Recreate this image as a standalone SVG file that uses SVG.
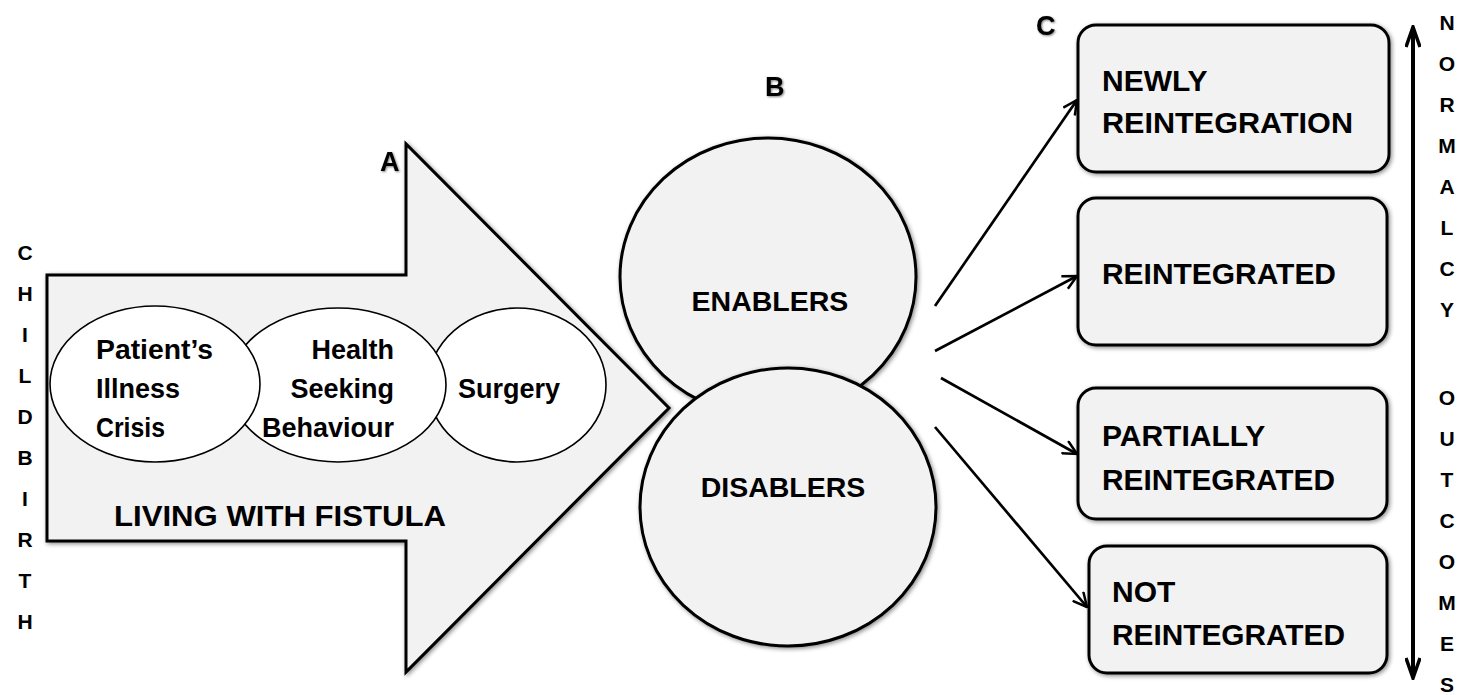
<svg xmlns="http://www.w3.org/2000/svg" width="1461" height="695" viewBox="0 0 1461 695">
<defs>
<filter id="sh" x="-10%" y="-10%" width="120%" height="120%">
<feDropShadow dx="1.5" dy="1.5" stdDeviation="2" flood-color="#000" flood-opacity="0.45"/>
</filter>
<filter id="tsh" x="-20%" y="-20%" width="140%" height="140%">
<feDropShadow dx="1" dy="1" stdDeviation="1.2" flood-color="#000" flood-opacity="0.5"/>
</filter>
<marker id="ah" viewBox="0 0 16 16" refX="15" refY="8" markerWidth="16" markerHeight="16" markerUnits="userSpaceOnUse" orient="auto">
<path d="M1,1 L15,8 L1,15" fill="none" stroke="#000" stroke-width="2.5"/>
</marker>
<marker id="ah2" viewBox="0 0 24 16" refX="22" refY="8" markerWidth="24" markerHeight="16" markerUnits="userSpaceOnUse" orient="auto-start-reverse">
<path d="M2,1 L22,8 L2,15" fill="none" stroke="#000" stroke-width="3.5"/>
</marker>
</defs>
<style>
text{font-family:"Liberation Sans",Arial,sans-serif;font-weight:bold;fill:#000}
.shape{fill:#f2f2f2;stroke:#000;stroke-width:3;filter:url(#sh)}
.ell{fill:#fff;stroke:#000;stroke-width:1.6}
.col{font-size:21px;text-anchor:middle}
.lbl{font-size:27px;filter:url(#tsh)}
.in{font-size:27px}
.big{font-size:30px}
.conn{stroke:#000;stroke-width:2.7;fill:none;marker-end:url(#ah)}
</style>

<g id="childbirth">
<text class="col" x="25" y="260">C</text>
<text class="col" x="25" y="301">H</text>
<text class="col" x="25" y="342">I</text>
<text class="col" x="25" y="383">L</text>
<text class="col" x="25" y="424">D</text>
<text class="col" x="25" y="465">B</text>
<text class="col" x="25" y="506">I</text>
<text class="col" x="25" y="547">R</text>
<text class="col" x="25" y="588">T</text>
<text class="col" x="25" y="629">H</text>
</g>

<g id="living-arrow">
<path class="shape" d="M47,275 L406,275 L406,144 L669,408 L406,672 L406,541 L47,541 Z"/>
<text class="lbl" x="380" y="171">A</text>
<ellipse class="ell" cx="517" cy="385" rx="89" ry="77"/>
<ellipse class="ell" cx="338" cy="385" rx="108" ry="77"/>
<ellipse class="ell" cx="155" cy="384" rx="105" ry="78"/>
<text class="in" x="96" y="359" textLength="117" lengthAdjust="spacingAndGlyphs">Patient’s</text>
<text class="in" x="96" y="398">Illness</text>
<text class="in" x="96" y="437" textLength="69" lengthAdjust="spacingAndGlyphs">Crisis</text>
<text class="in" x="394" y="359" text-anchor="end">Health</text>
<text class="in" x="394" y="398" text-anchor="end">Seeking</text>
<text class="in" x="394" y="437" text-anchor="end">Behaviour</text>
<text class="in" x="458" y="398">Surgery</text>
<text class="big" x="114" y="526" textLength="332" lengthAdjust="spacingAndGlyphs">LIVING WITH FISTULA</text>
</g>

<g id="B-label"><text class="lbl" x="765" y="96">B</text></g>

<g id="enablers">
<ellipse class="shape" cx="768" cy="277" rx="148" ry="139"/>
<text x="770" y="311" font-size="28.5" text-anchor="middle">ENABLERS</text>
</g>
<g id="disablers">
<ellipse class="shape" cx="788" cy="507" rx="148" ry="139"/>
<text x="783" y="497" font-size="28.5" text-anchor="middle">DISABLERS</text>
</g>

<g id="C-label"><text class="lbl" x="1036" y="35">C</text></g>

<g id="box-newly">
<rect class="shape" x="1078" y="25" width="311" height="147" rx="18"/>
<text class="big" x="1102" y="91">NEWLY</text>
<text class="big" x="1102" y="133" textLength="251" lengthAdjust="spacingAndGlyphs">REINTEGRATION</text>
</g>
<g id="box-reintegrated">
<rect class="shape" x="1078" y="198" width="309" height="147" rx="18"/>
<text class="big" x="1102" y="284" textLength="234" lengthAdjust="spacingAndGlyphs">REINTEGRATED</text>
</g>
<g id="box-partially">
<rect class="shape" x="1078" y="388" width="309" height="131" rx="18"/>
<text class="big" x="1102" y="446">PARTIALLY</text>
<text class="big" x="1102" y="490" textLength="233" lengthAdjust="spacingAndGlyphs">REINTEGRATED</text>
</g>
<g id="box-not">
<rect class="shape" x="1089" y="546" width="298" height="127" rx="18"/>
<text class="big" x="1112" y="602">NOT</text>
<text class="big" x="1112" y="645" textLength="233" lengthAdjust="spacingAndGlyphs">REINTEGRATED</text>
</g>

<g id="connectors">
<line class="conn" x1="935" y1="306" x2="1077" y2="100"/>
<line class="conn" x1="935" y1="351" x2="1077" y2="276"/>
<line class="conn" x1="941" y1="378" x2="1077" y2="454"/>
<line class="conn" x1="935" y1="427" x2="1087" y2="607"/>
<line x1="1413" y1="27" x2="1413" y2="678" stroke="#000" stroke-width="4" marker-start="url(#ah2)" marker-end="url(#ah2)"/>
</g>

<g id="normalcy-outcomes">
<text class="col" x="1447" y="30">N</text>
<text class="col" x="1447" y="71">O</text>
<text class="col" x="1447" y="112">R</text>
<text class="col" x="1447" y="153">M</text>
<text class="col" x="1447" y="194">A</text>
<text class="col" x="1447" y="235">L</text>
<text class="col" x="1447" y="276">C</text>
<text class="col" x="1447" y="317">Y</text>
<text class="col" x="1447" y="405">O</text>
<text class="col" x="1447" y="446">U</text>
<text class="col" x="1447" y="487">T</text>
<text class="col" x="1447" y="528">C</text>
<text class="col" x="1447" y="569">O</text>
<text class="col" x="1447" y="610">M</text>
<text class="col" x="1447" y="651">E</text>
<text class="col" x="1447" y="692">S</text>
</g>
</svg>
